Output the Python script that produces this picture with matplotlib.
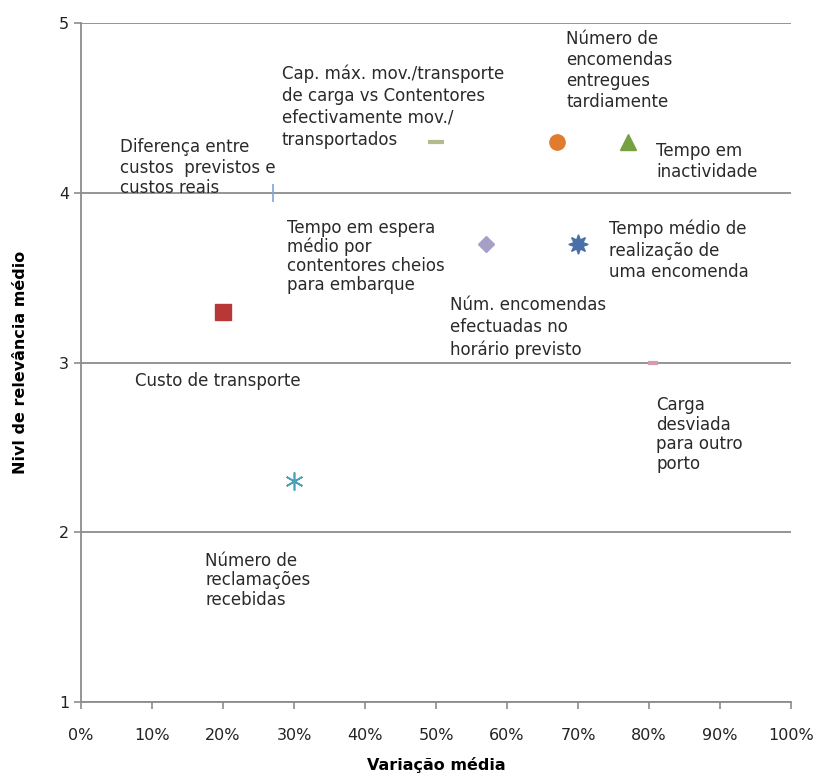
import matplotlib
matplotlib.use('Agg')
import matplotlib.pyplot as plt
from matplotlib.ticker import PercentFormatter

# indicators: average variation (x) vs average relevance level (y)
variacao = [0.27, 0.50, 0.67, 0.77, 0.57, 0.70, 0.20, 0.805, 0.30]
relevancia = [4.0, 4.3, 4.3, 4.3, 3.7, 3.7, 3.3, 3.0, 2.3]
marcadores = ['|', '_', 'o', '^', 'D', (8, 1, 0), 's', '_', (6, 2, 0)]
cores = ['#7ea6d8', '#b0bc8c', '#e07b30', '#77a040', '#a6a0c8',
         '#4a70a8', '#b83838', '#d79aa8', '#4aa0b8']
tamanhos = [13, 11, 11, 11, 8, 14, 11, 7, 13]
espessuras = [1.2, 3, 1, 1, 1, 1, 1, 3, 1.2]

rotulos = [
    'Diferença entre\ncustos  previstos e\ncustos reais',
    'Cap. máx. mov./transporte\nde carga vs Contentores\nefectivamente mov./\ntransportados',
    'Número de\nencomendas\nentregues\ntardiamente',
    'Tempo em\ninactividade',
    'Tempo em espera\nmédio por\ncontentores cheios\npara embarque',
    'Tempo médio de\nrealização de\numa encomenda',
    'Custo de transporte',
    'Núm. encomendas\nefectuadas no\nhorário previsto',
    'Carga\ndesviada\npara outro\nporto',
    'Número de\nreclamações\nrecebidas',
]
# label anchor (top-left) in data coordinates
rotulo_x = [0.055, 0.283, 0.683, 0.81, 0.29, 0.744, 0.076, 0.52, 0.81, 0.175]
rotulo_y = [4.32, 4.755, 4.96, 4.30, 3.845, 3.845, 2.945, 3.39, 2.80, 1.885]
espacamento = [1.15, 1.28, 1.22, 1.22, 1.05, 1.28, 1.2, 1.28, 1.1, 1.1]

fig = plt.figure(figsize=(8.22, 7.83), dpi=100)
ax = fig.add_axes([0.0985, 0.1034, 0.864, 0.8672])

for x, y, m, c, s, e in zip(variacao, relevancia, marcadores, cores,
                            tamanhos, espessuras):
    ax.plot(x, y, marker=m, color=c, markersize=s, linestyle='none',
            markeredgewidth=e, zorder=3)

for t, x, y, ls in zip(rotulos, rotulo_x, rotulo_y, espacamento):
    ax.text(x, y, t, fontsize=12, color='#2a2a2a', ha='left', va='top',
            linespacing=ls, zorder=4)

ax.set_xlim(0, 1)
ax.set_ylim(1, 5)
ax.set_xticks([i / 10 for i in range(11)])
ax.set_yticks([1, 2, 3, 4, 5])
ax.xaxis.set_major_formatter(PercentFormatter(1.0, decimals=0))
ax.grid(axis='y', color='#8c8c8c', linewidth=1.3)
ax.set_axisbelow(True)

ax.spines['right'].set_visible(False)
ax.spines['top'].set_visible(False)
ax.spines['left'].set_color('#8c8c8c')
ax.spines['bottom'].set_color('#8c8c8c')
ax.spines['left'].set_linewidth(1.3)
ax.spines['bottom'].set_linewidth(1.3)
ax.tick_params(axis='both', colors='#8c8c8c', length=5, width=1.2,
               labelcolor='#222222', labelsize=11.5)
ax.tick_params(axis='x', pad=14)

ax.set_xlabel('Variação média', fontsize=11.5, fontweight='bold', labelpad=10)
ax.set_ylabel('Nivl de relevância médio', fontsize=11.5, fontweight='bold',
              labelpad=22)

fig.savefig('out.png', dpi=100)
